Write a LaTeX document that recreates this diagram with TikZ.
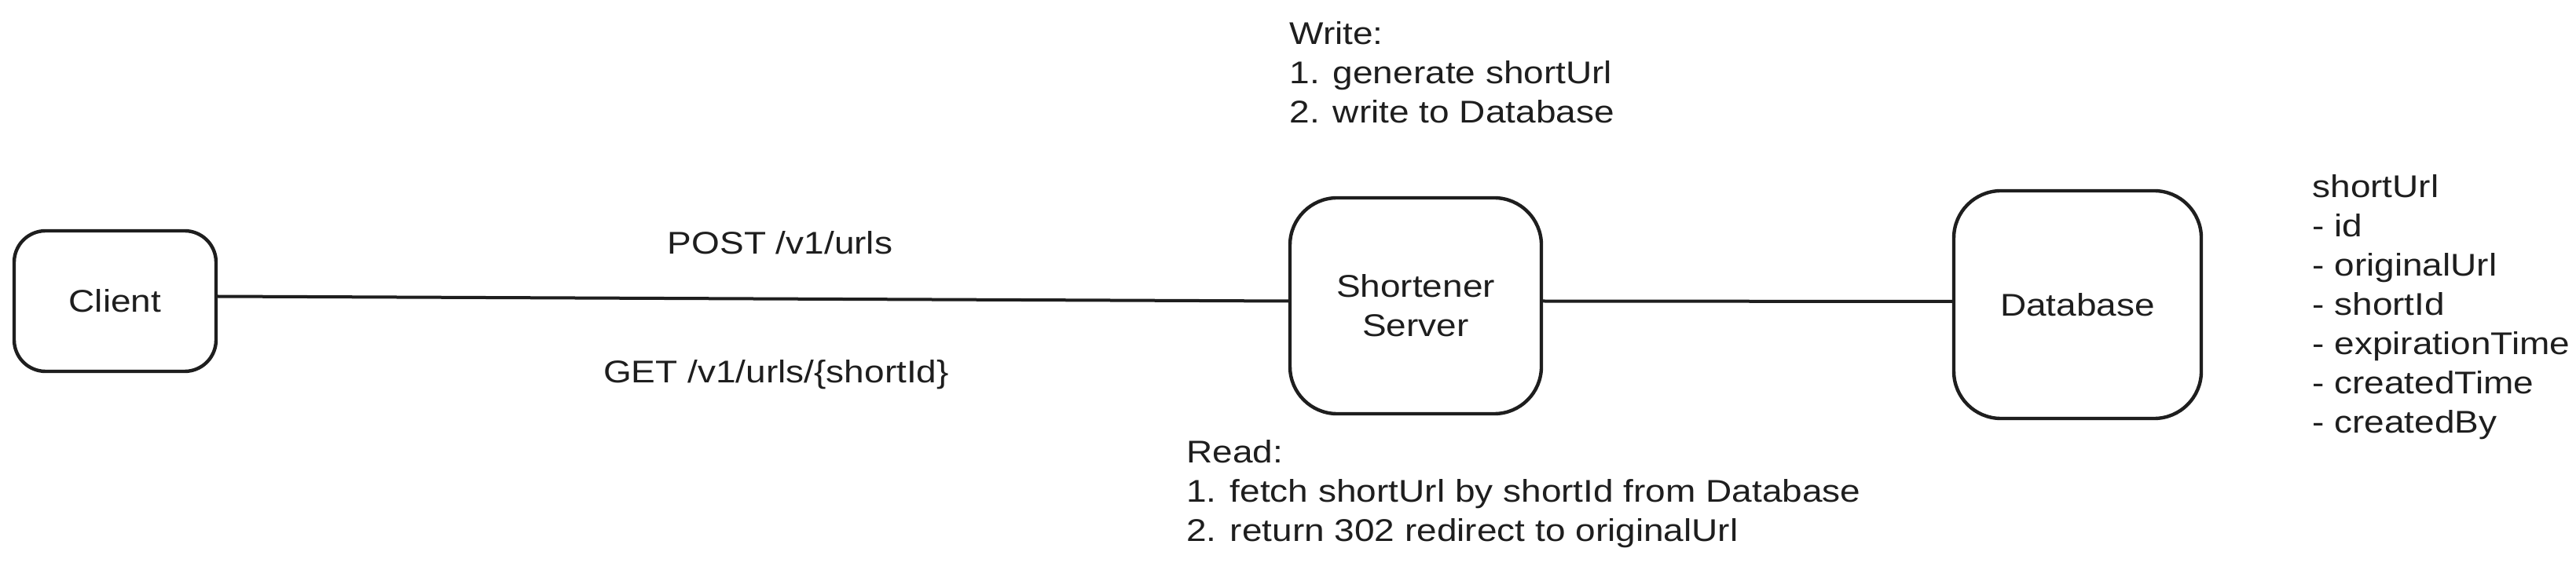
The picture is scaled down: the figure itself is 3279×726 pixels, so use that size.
\documentclass[tikz,border=0pt]{standalone}
\usepackage{fontspec}
\setmainfont{Liberation Sans}[FakeStretch=1.15]
\definecolor{ink}{HTML}{1E1E1E}
\begin{document}
\begin{tikzpicture}[x=0.5pt,y=-0.5pt,
  every node/.style={text=ink,font=\fontsize{20}{25}\selectfont},
  box/.style={draw=ink,line width=2.2pt,fill=white,inner sep=0pt,align=center},
  conn/.style={draw=ink,line width=2pt,line cap=round},
  note/.style={inner sep=0pt,anchor=west,align=left}]
\path[fill=white] (0,0) rectangle (3279,726);
\useasboundingbox (0,0) rectangle (3279,726);
\node[box,minimum width=128.5pt,minimum height=89.5pt,rounded corners=20pt] (client) at (146.5,383.5) {Client};
\node[box,minimum width=160pt,minimum height=137.5pt,rounded corners=30pt] (server) at (1802,389.5) {Shortener\\Server};
\node[box,minimum width=157.5pt,minimum height=145pt,rounded corners=30pt] (db) at (2644.5,388) {Database};
\draw[conn] ([yshift=3pt]client.east) -- ([yshift=3pt]server.west);
\draw[conn] ([yshift=3pt]server.east) -- ([yshift=2pt]db.west);
\node (post) at (993,309) {POST /v1/urls};
\node (get) at (988,477) {GET /v1/urls/\{shortId\}};
\node[note] (write) at (1641,92) {Write:\\1. generate shortUrl\\2. write to Database};
\node[note] (read) at (1510,629) {Read:\\1. fetch shortUrl by shortId from Database\\2. return 302 redirect to originalUrl};
\node[note] (schema) at (2943,391) {shortUrl\\- id\\- originalUrl\\- shortId\\- expirationTime\\- createdTime\\- createdBy};
\end{tikzpicture}
\end{document}
